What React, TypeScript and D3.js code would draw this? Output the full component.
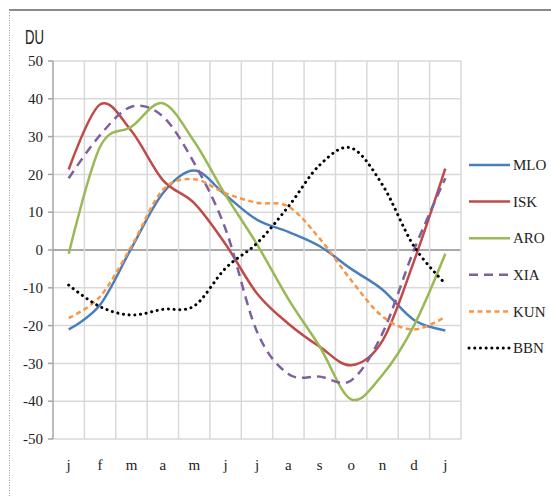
import React from 'react';
import * as d3 from 'd3';

const months = ['j', 'f', 'm', 'a', 'm', 'j', 'j', 'a', 's', 'o', 'n', 'd', 'j'];
const yTicks = [50, 40, 30, 20, 10, 0, -10, -20, -30, -40, -50];

const MLO = [-21, -14.5, 0.5, 15, 21, 14.5, 8, 4.8, 1, -5, -10.5, -18.5, -21.3];
const ISK = [21.3, 38.5, 31.5, 18.5, 12.4, 1.5, -11.5, -19.5, -25.6, -30.5, -24, -3, 21.5];
const ARO = [-1, 27.3, 32.6, 38.8, 28.7, 14.5, 1.5, -13, -25.6, -39.5, -33, -20, -1];
const XIA = [19, 30.4, 37.9, 35.3, 23, 5.5, -21.6, -32.8, -33.5, -34.5, -22, 0, 19];
const KUN = [-18, -12.3, 1, 15.9, 18.7, 15, 12.5, 11.5, 3, -8, -17.6, -21, -17.7];
const BBN = [-9.3, -15, -17.2, -15.7, -14.8, -4.8, 1.8, 11.5, 22.5, 27, 17.2, 1, -8.9];

const seriesNames = ['MLO', 'ISK', 'ARO', 'XIA', 'KUN', 'BBN'];
const seriesValues = [MLO, ISK, ARO, XIA, KUN, BBN];
const colors = ['#4A7EBB', '#BE4B48', '#98B954', '#7D60A0', '#F79646', '#000000'];
const dashes = ['', '', '', '9 6', '5 3.5', '0.1 5.6'];

const SERIF = 'Liberation Serif, DejaVu Serif, serif';

export default function App() {
  const W = 551, H = 496;
  const left = 53, right = 461, top = 61, bottom = 439;
  const idx = months.map((_, i) => i);
  const x = d3.scalePoint<number>().domain(idx).range([left, right]).padding(0.5);
  const step = x.step();
  const y = d3.scaleLinear().domain([-50, 50]).range([bottom, top]);
  const line = d3.line<number>()
    .x((_, i) => x(i) as number)
    .y((d) => y(d))
    .curve(d3.curveCatmullRom.alpha(0));

  const vGrid = d3.range(months.length + 1).map((k) => left + step * k);

  return (
    <svg width={W} height={H} style={{ position: 'absolute', left: 0, top: 0, background: '#fff' }}>
      {/* frame */}
      <line x1={9} x2={W} y1={10} y2={10} stroke="#8a8a8a" strokeWidth={2} />
      <line x1={9.5} x2={9.5} y1={10} y2={H} stroke="#9a9a9a" strokeWidth={1} strokeDasharray="1 1.5" />

      <text x={25} y={44} style={{ fontFamily: 'Liberation Sans, Arial, sans-serif', fontSize: 21 }}
        textLength={19} lengthAdjust="spacingAndGlyphs" fill="#222">DU</text>

      {/* horizontal grid */}
      {yTicks.map((t) => (
        <line key={'h' + t} x1={left} x2={right} y1={y(t)} y2={y(t)}
          stroke={t === 0 ? '#8c8c8c' : '#d9d9d9'} strokeWidth={1.5} />
      ))}
      {/* vertical grid */}
      {vGrid.map((gx, k) => (
        <line key={'v' + k} x1={gx} x2={gx} y1={top} y2={bottom} stroke={k === 0 ? '#a6a6a6' : '#d9d9d9'} strokeWidth={1.5} />
      ))}
      {/* y ticks */}
      {yTicks.map((t) => (
        <g key={'t' + t}>
          <line x1={left - 5} x2={left} y1={y(t)} y2={y(t)} stroke="#a6a6a6" strokeWidth={1.5} />
          <text x={43} y={y(t)} dy="0.35em" textAnchor="end" style={{ fontFamily: SERIF, fontSize: 15 }}
            fill="#222">{t}</text>
        </g>
      ))}
      {/* x labels */}
      {months.map((m, i) => (
        <text key={'x' + i} x={x(i) as number} y={470} textAnchor="middle"
          style={{ fontFamily: SERIF, fontSize: 15 }} fill="#222">{m}</text>
      ))}

      {/* series */}
      {seriesValues.map((vals, s) => (
        <path key={seriesNames[s]} d={line(vals) || ''} fill="none" stroke={colors[s]}
          strokeWidth={s === 5 ? 3 : 2.5} strokeDasharray={dashes[s] || undefined}
          strokeLinecap={s === 5 ? 'round' : 'butt'} />
      ))}

      {/* legend */}
      {seriesNames.map((n, s) => {
        const ly = 165 + s * 36.6;
        return (
          <g key={'lg' + n}>
            <line x1={469} x2={510} y1={ly} y2={ly} stroke={colors[s]} strokeWidth={s === 5 ? 3 : 2.5}
              strokeDasharray={dashes[s] || undefined} strokeLinecap={s === 5 ? 'round' : 'butt'} />
            <text x={513} y={ly} dy="0.35em" style={{ fontFamily: SERIF, fontSize: 15 }}
              fill="#222">{n}</text>
          </g>
        );
      })}
    </svg>
  );
}
